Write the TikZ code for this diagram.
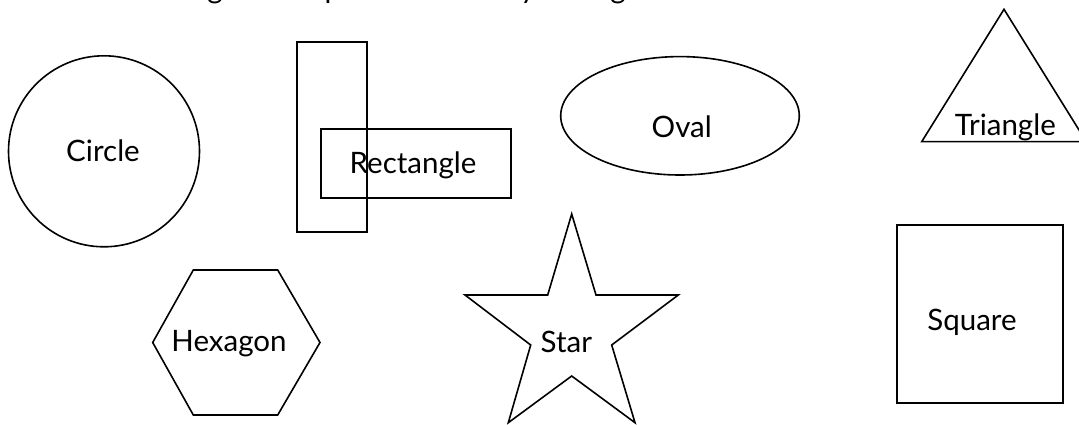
\documentclass[tikz,border=0pt]{standalone}
\usepackage{fontspec}
\setmainfont{Lato}
\begin{document}
\begin{tikzpicture}[x=1pt,y=-1pt,
  thin shape/.style={draw=black, line width=1.6pt, line join=miter},
  thick shape/.style={draw=black, line width=2.2pt, line join=miter},
  lbl/.style={font=\fontsize{29.5}{31}\selectfont, inner sep=0pt, anchor=base}]
\useasboundingbox (0,0) rectangle (1079,425);
% cut-off title (only descenders visible)
\node[lbl] (t1) at (215,-1.5) {g};
\node[lbl] (t2) at (333,-1.5) {p};
\node[lbl] (t3) at (528,-1.5) {y};
\node[lbl] (t4) at (618,-1.5) {g};
% circle
\draw[thin shape] (104,151.3) circle[radius=95.5pt];
\node[lbl] (circle) at (103,161.7) {Circle};
% rectangles
\draw[thick shape] (296.7,42.3) rectangle (367,232);
\draw[thick shape] (320.7,129) rectangle (510.7,198.3);
\node[lbl] (rect) at (413,173.3) {Rectangle};
% oval
\draw[thin shape] (680,115.8) ellipse[x radius=119.3pt, y radius=59.2pt];
\node[lbl] (oval) at (681.7,137.3) {Oval};
% triangle
\draw[thin shape] (1004,9.3) -- (921.7,141.7) -- (1086.3,141.7) -- cycle;
\node[lbl] (tri) at (1005.3,136) {Triangle};
% hexagon
\draw[thin shape] (193.3,270) -- (277.7,270) -- (320,342.5) -- (277.7,415)
  -- (193.3,415) -- (152.7,342.5) -- cycle;
\node[lbl] (hex) at (229,351.7) {Hexagon};
% star
\draw[thin shape] (571.7,214) -- (596,295) -- (678.3,295) -- (611.7,345)
  -- (635,422.7) -- (571.7,376) -- (508.3,422.7) -- (530.7,345)
  -- (465,295) -- (547.7,295) -- cycle;
\node[lbl] (star) at (566.3,352.7) {Star};
% square
\draw[thick shape] (896.7,225) rectangle (1063,402.7);
\node[lbl] (square) at (972,330) {Square};
\end{tikzpicture}
\end{document}
